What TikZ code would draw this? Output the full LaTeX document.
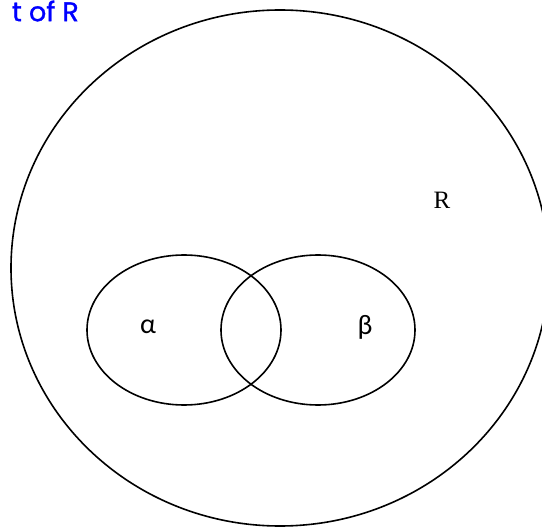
\documentclass[tikz,border=0pt]{standalone}
\usepackage{fontspec}
\setmainfont{Liberation Serif}
\newfontfamily\lblfont{Carlito}
\newfontfamily\ttlfont[FakeBold=1.2]{Poppins}
\usetikzlibrary{shapes.geometric}
\definecolor{ttlblue}{RGB}{0,0,255}

\begin{document}
\begin{tikzpicture}[x=1pt, y=-1pt,
    set/.style={draw=black, line width=1.6pt, ellipse, inner sep=0pt},
    greek/.style={font=\lblfont\fontsize{28}{30}\selectfont}]
    \useasboundingbox (0,0) rectangle (542,527);
    \node[set, minimum width=538pt, minimum height=516pt] (R) at (280,268) {};
    \node[set, minimum width=194pt, minimum height=150pt] (alpha) at (184,330) {};
    \node[set, minimum width=194pt, minimum height=150pt] (beta) at (318,330) {};
    \node[greek] (la) at (148,327) {α};
    \node[greek] (lb) at (365,327) {β};
    \node[font=\fontsize{25}{27}\selectfont] (lR) at (442,200) {R};
    \node[font=\ttlfont\fontsize{27}{29}\selectfont, text=ttlblue, anchor=east, inner sep=0pt]
      (ttl) at (79,11) {t of R};
\end{tikzpicture}
\end{document}
